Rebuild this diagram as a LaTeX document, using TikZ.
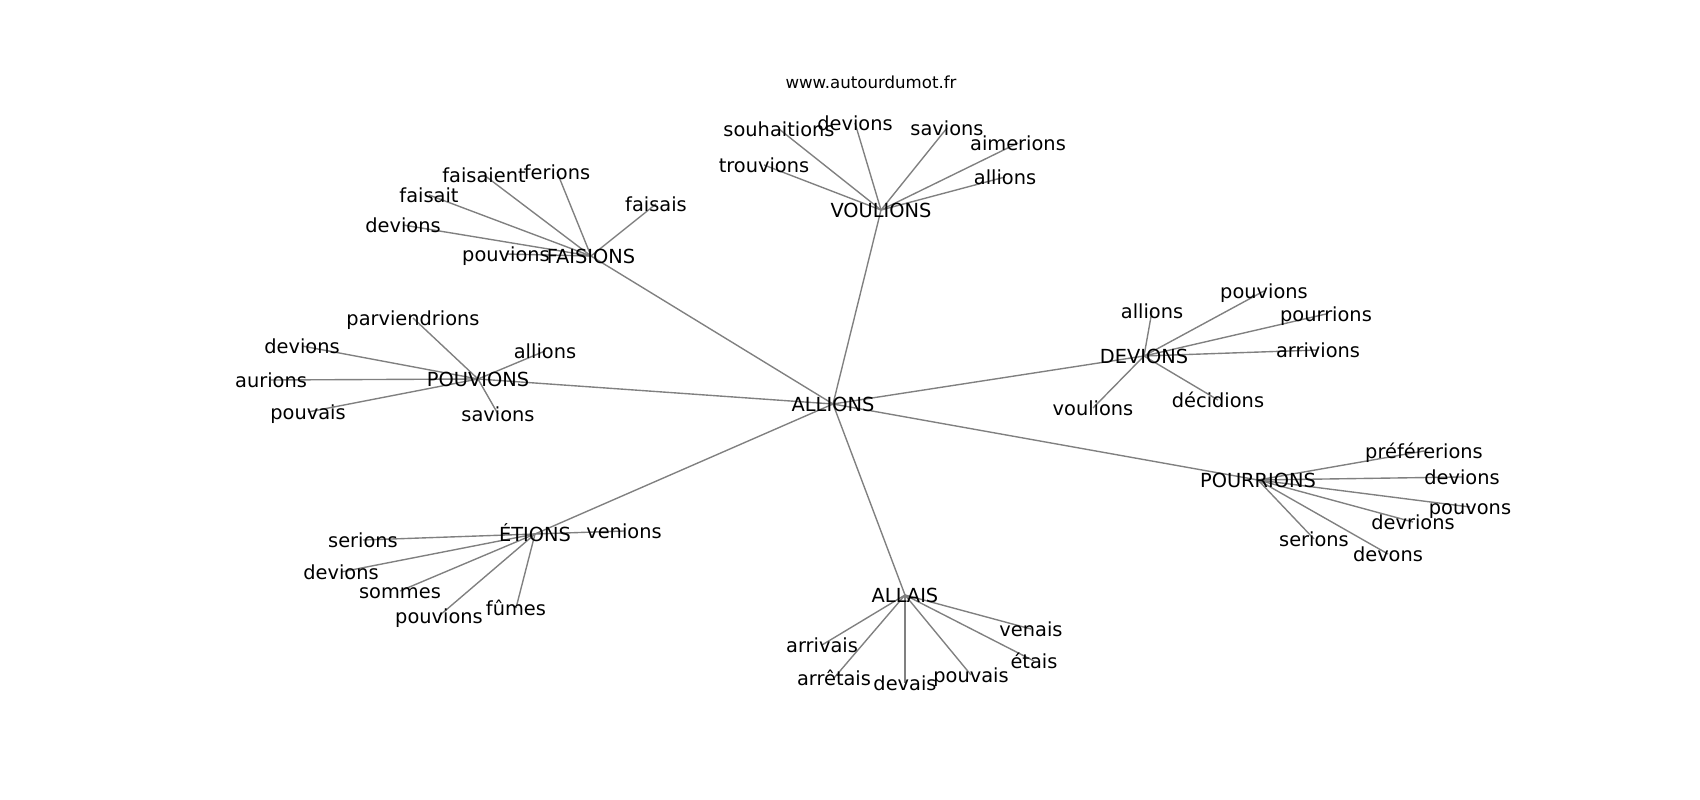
\documentclass[tikz,border=0pt]{standalone}
\usepackage{fontspec}
\setmainfont{DejaVu Sans}
\usetikzlibrary{backgrounds}
\definecolor{linkColor}{HTML}{808080}

\tikzset{
	word/.style={font=\fontsize{14}{16}\selectfont, inner sep=0pt, text height=10.6pt, text depth=0pt},
	link/.style={draw=linkColor, line width=1pt}
}

\begin{document}
\begin{tikzpicture}[x=0.01in, y=-0.01in]
		
		% --- 1. Canvas ---
		\useasboundingbox (0,0) rectangle (1700,800);
		\node[font=\fontsize{12}{14}\selectfont, inner sep=0pt, text height=9pt, text depth=0pt] (site) at (871,82) {www.autourdumot.fr};
		
		% --- 2. Centre word and its neighbours ---
		\node[word] (allions) at (833,404) {ALLIONS};
		\foreach \n/\x/\y/\w in {
			voulions/881/210/VOULIONS,
			faisions/591/256/FAISIONS,
			pouvions/478/379/POUVIONS,
			devions/1144/356/DEVIONS,
			pourrions/1258/480/POURRIONS,
			etions/535/534/ÉTIONS,
			allais/905/595/ALLAIS
		} {
			\node[word] (\n) at (\x,\y) {\w};
			\begin{scope}[on background layer]
				\draw[link] (allions.center) -- (\n.center);
			\end{scope}
		}
		
		% --- 3. Leaves of each neighbour ---
		% hub / leaf name / x / y / text
		\foreach \h/\n/\x/\y/\w in {
			voulions/vo1/779/129/souhaitions,
			voulions/vo2/855/123/devions,
			voulions/vo3/947/128/savions,
			voulions/vo4/1018/143/aimerions,
			voulions/vo5/1005/177/allions,
			voulions/vo6/764/165/trouvions,
			faisions/fa1/484/175/faisaient,
			faisions/fa2/557/172/ferions,
			faisions/fa3/429/195/faisait,
			faisions/fa4/656/204/faisais,
			faisions/fa5/403/225/devions,
			faisions/fa6/506/254/pouvions,
			pouvions/po1/413/318/parviendrions,
			pouvions/po2/302/346/devions,
			pouvions/po3/545/351/allions,
			pouvions/po4/271/380/aurions,
			pouvions/po5/308/412/pouvais,
			pouvions/po6/498/414/savions,
			devions/de1/1152/311/allions,
			devions/de2/1264/291/pouvions,
			devions/de3/1326/314/pourrions,
			devions/de4/1318/350/arrivions,
			devions/de5/1093/408/voulions,
			devions/de6/1218/400/décidions,
			pourrions/pr1/1424/451/préférerions,
			pourrions/pr2/1462/477/devions,
			pourrions/pr3/1470/507/pouvons,
			pourrions/pr4/1413/522/devrions,
			pourrions/pr5/1314/539/serions,
			pourrions/pr6/1388/554/devons,
			etions/et1/624/531/venions,
			etions/et2/363/540/serions,
			etions/et3/341/572/devions,
			etions/et4/400/591/sommes,
			etions/et5/439/616/pouvions,
			etions/et6/516/608/fûmes,
			allais/al1/822/645/arrivais,
			allais/al2/834/678/arrêtais,
			allais/al3/905/683/devais,
			allais/al4/971/675/pouvais,
			allais/al5/1034/661/étais,
			allais/al6/1031/629/venais
		} {
			\node[word] (\n) at (\x,\y) {\w};
			\begin{scope}[on background layer]
				\draw[link] (\h.center) -- (\n.center);
			\end{scope}
		}
		
	\end{tikzpicture}
\end{document}
